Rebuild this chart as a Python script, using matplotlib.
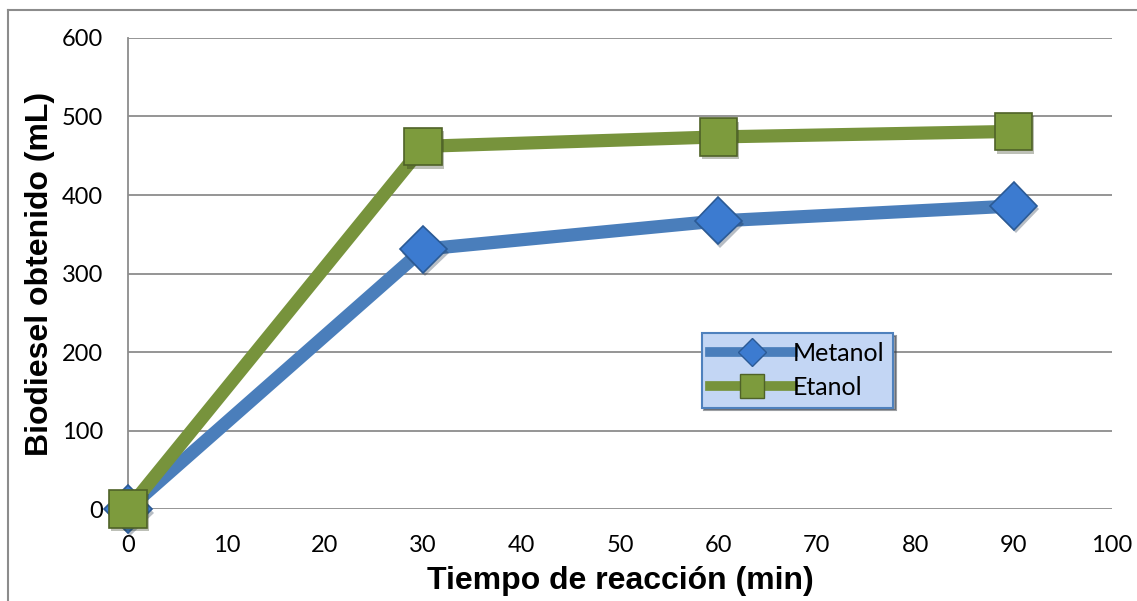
import matplotlib.pyplot as plt
import matplotlib.patheffects as pe
from matplotlib.lines import Line2D

# Biodiesel volume vs. reaction time for each alcohol
tiempo = [0, 30, 60, 90]
metanol = [0, 331, 367, 386]
etanol = [0, 462, 474, 481]

x_ticks = list(range(0, 101, 10))
y_ticks = list(range(0, 601, 100))

fig = plt.figure(figsize=(11.37, 6.01), dpi=100)
ax = fig.add_axes([0.1126, 0.153, 0.8654, 0.7838])

shadow = [pe.SimplePatchShadow(offset=(1.5, -2.5), alpha=0.3), pe.Normal()]

series = [
    (metanol, 'Metanol', '#4a7ebb', 'D', 24, '#3c7bd0', '#2b5a95'),
    (etanol, 'Etanol', '#77933c', 's', 27, '#7d9b3d', '#4f6228'),
]
for i, (vals, name, col, mk, ms, fc, ec) in enumerate(series):
    ax.plot(tiempo, vals, color=col, lw=9.5, solid_capstyle='butt',
            clip_on=False, zorder=3 + 2 * i)
    ax.plot(tiempo, vals, ls='none', marker=mk, markersize=ms,
            markerfacecolor=fc, markeredgecolor=ec, markeredgewidth=1.2,
            clip_on=False, zorder=4 + 2 * i, path_effects=shadow)

ax.set_xlim(0, 100)
ax.set_ylim(0, 600)
ax.set_xticks(x_ticks)
ax.set_yticks(y_ticks)
ax.tick_params(axis='both', length=0, labelsize=17, colors='black')
ax.tick_params(axis='x', pad=19)
ax.tick_params(axis='y', pad=18)
for lbl in ax.get_xticklabels() + ax.get_yticklabels():
    lbl.set_family('Lato')

ax.yaxis.grid(True, color='#8c8c8c', lw=1.3)
ax.set_axisbelow(True)
for side in ['top', 'right', 'bottom']:
    ax.spines[side].set_visible(False)
ax.spines['left'].set_color('#8c8c8c')
ax.spines['left'].set_linewidth(1.3)

ax.set_xlabel('Tiempo de reacción (min)', fontsize=23, fontweight='bold',
              family='Liberation Sans', labelpad=7)
ax.set_ylabel('Biodiesel obtenido (mL)', fontsize=23, fontweight='bold',
              family='Liberation Sans', labelpad=5)

handles = [
    Line2D([], [], color='#4a7ebb', lw=7, marker='D', markersize=14,
           markerfacecolor='#3c7bd0', markeredgecolor='#2b5a95'),
    Line2D([], [], color='#77933c', lw=7, marker='s', markersize=17,
           markerfacecolor='#7d9b3d', markeredgecolor='#4f6228'),
]
leg = ax.legend(handles, ['Metanol', 'Etanol'], loc='upper left',
                bbox_to_anchor=(0.583, 0.374), frameon=True, fancybox=False,
                shadow=True, handlelength=3.3, handletextpad=0.0,
                borderpad=0.35, labelspacing=0.45, borderaxespad=0,
                prop={'family': 'Lato', 'size': 18})
leg.get_frame().set_facecolor('#c3d6f4')
leg.get_frame().set_edgecolor('#4f81bd')
leg.get_frame().set_linewidth(1.5)
leg.set_zorder(10)

# outer chart frame
fig.add_artist(Line2D([8 / 1137, 1], [1 - 10 / 601, 1 - 10 / 601],
                      transform=fig.transFigure, color='#8c8c8c', lw=1.5))
fig.add_artist(Line2D([8 / 1137, 8 / 1137], [0, 1 - 10 / 601],
                      transform=fig.transFigure, color='#8c8c8c', lw=1.5))

fig.savefig('out.png', dpi=100)
